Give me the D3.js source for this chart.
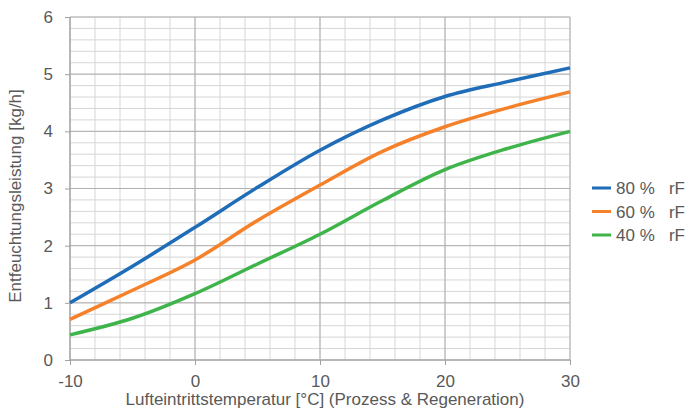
<!DOCTYPE html>
<html><head><meta charset="utf-8">
<script src="https://cdn.jsdelivr.net/npm/d3@7"></script>
<style>body{margin:0;background:#fff}svg{display:block}</style>
</head><body>
<svg id="c" width="687" height="416"></svg>
<script>
const temps = [-10, -5, 0, 5, 10, 15, 20, 25, 30];
const rf80 = [1.00, 1.64, 2.32, 3.02, 3.67, 4.20, 4.61, 4.87, 5.11];
const rf60 = [0.71, 1.22, 1.75, 2.44, 3.06, 3.65, 4.08, 4.41, 4.69];
const rf40 = [0.44, 0.73, 1.16, 1.68, 2.20, 2.79, 3.33, 3.70, 4.00];
const seriesNames = ["80 %   rF", "60 %   rF", "40 %   rF"];
const seriesValues = [rf80, rf60, rf40];
const colors = ["#1f6db8", "#f5812a", "#3fb44b"];
const xTicks = [-10, 0, 10, 20, 30];
const yTicks = [0, 1, 2, 3, 4, 5, 6];
const xLabel = "Lufteintrittstemperatur [°C] (Prozess & Regeneration)";
const yLabel = "Entfeuchtungsleistung [kg/h]";

const svg = d3.select("#c");
const font = "'Liberation Sans', Arial, sans-serif";
const x = d3.scaleLinear().domain([-10, 30]).range([70, 570]);
const y = d3.scaleLinear().domain([0, 6]).range([360, 17]);

const g = svg.append("g");
g.selectAll(".vmin").data(d3.range(-10, 30.01, 2)).join("line")
  .attr("x1", d => x(d)).attr("x2", d => x(d)).attr("y1", y(0)).attr("y2", y(6))
  .attr("stroke", "#d6d6d6").attr("stroke-width", 1);
g.selectAll(".hmin").data(d3.range(0, 6.001, 0.2)).join("line")
  .attr("y1", d => y(d)).attr("y2", d => y(d)).attr("x1", x(-10)).attr("x2", x(30))
  .attr("stroke", "#d6d6d6").attr("stroke-width", 1);
g.selectAll(".vmaj").data(xTicks).join("line")
  .attr("x1", d => x(d)).attr("x2", d => x(d)).attr("y1", y(0)).attr("y2", y(6))
  .attr("stroke", "#b0b0b0").attr("stroke-width", 1);
g.selectAll(".hmaj").data(yTicks).join("line")
  .attr("y1", d => y(d)).attr("y2", d => y(d)).attr("x1", x(-10)).attr("x2", x(30))
  .attr("stroke", "#b0b0b0").attr("stroke-width", 1);

const fmt = d => String(d);
const xAxis = svg.append("g").attr("transform", `translate(0,${y(0)})`)
  .call(d3.axisBottom(x).tickValues(xTicks).tickSize(5).tickPadding(10).tickFormat(fmt));
const yAxis = svg.append("g").attr("transform", `translate(${x(-10)},0)`)
  .call(d3.axisLeft(y).tickValues(yTicks).tickSize(5).tickPadding(12).tickFormat(fmt));
[xAxis, yAxis].forEach(a => {
  a.selectAll("path").attr("stroke", "#a0a0a0");
  a.selectAll("line").attr("stroke", "#a0a0a0");
  a.selectAll("text").attr("fill", "#595959").style("font-family", font).style("font-size", "17px");
});
xAxis.select(".domain").attr("d", `M${x(-10)},0H${x(30)}`);
yAxis.select(".domain").attr("d", `M0,${y(0)}V${y(6)}`);

const line = d3.line().x((d, i) => x(temps[i])).y(d => y(d)).curve(d3.curveCatmullRom.alpha(0.5));
seriesValues.forEach((vals, k) => {
  svg.append("path").datum(vals).attr("d", line)
    .attr("fill", "none").attr("stroke", colors[k]).attr("stroke-width", 3.5)
    .attr("stroke-linecap", "butt");
});

seriesNames.forEach((n, k) => {
  const ly = 188 + k * 23.5;
  svg.append("line").attr("x1", 592).attr("x2", 611).attr("y1", ly).attr("y2", ly)
    .attr("stroke", colors[k]).attr("stroke-width", 3);
  svg.append("text").attr("x", 616).attr("y", ly + 6).text(n)
    .attr("fill", "#595959").style("font-family", font).style("font-size", "17px")
    .style("white-space", "pre").attr("xml:space", "preserve");
});

svg.append("text").attr("x", 325).attr("y", 405).attr("text-anchor", "middle")
  .text(xLabel).attr("fill", "#595959").style("font-family", font).style("font-size", "17px");
svg.append("text").attr("transform", "translate(21,196) rotate(-90)").attr("text-anchor", "middle")
  .text(yLabel).attr("fill", "#595959").style("font-family", font).style("font-size", "17px");
</script>
</body></html>
